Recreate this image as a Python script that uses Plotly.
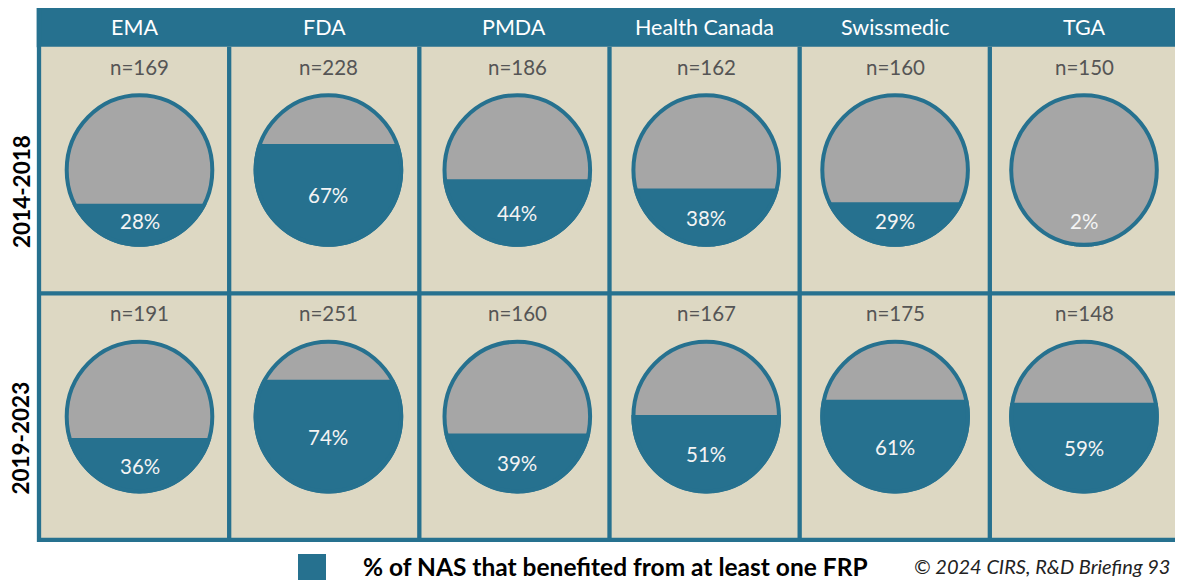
import numpy as np
import plotly.graph_objects as go

# ---------------- data ----------------
regulators = ["EMA", "FDA", "PMDA", "Health Canada", "Swissmedic", "TGA"]
periods = ["2014-2018", "2019-2023"]
n_2014_2018 = [169, 228, 186, 162, 160, 150]
n_2019_2023 = [191, 251, 160, 167, 175, 148]
pct_2014_2018 = [28, 67, 44, 38, 29, 2]
pct_2019_2023 = [36, 74, 39, 51, 61, 59]
legend_label = "% of NAS that benefited from at least one FRP"
source_label = "© 2024 CIRS, R&D Briefing 93"

n_values = [n_2014_2018, n_2019_2023]
pct_values = [pct_2014_2018, pct_2019_2023]

# ---------------- style / layout ----------------
W, H = 1183, 580
PAGE_OFF = 8  # default page body margin
BLUE = "#26718F"
BEIGE = "#DDD8C3"
GREY = "#A6A6A6"
NTXT = "#555555"
FONT = "Lato"

GX0, GX1 = 39.0, 1180.0
HEAD_Y0, HEAD_Y1 = 5.7, 46.7
ROW_H = 246.6
LINE_W = 4.3
COL_W = (GX1 - GX0) / len(regulators)

CIRC_X0, CIRC_DX = 139.5, 188.9
CIRC_Y0 = 170.0
RX, RY = 74.8, 76.8  # outer radii
OUT_W = 4.0

fig = go.Figure()
shapes = []
annotations = []

# header band
shapes.append(dict(type="rect", x0=GX0 - 2.3, x1=GX1 + 1.7, y0=HEAD_Y0, y1=HEAD_Y1 + 0.5,
                   fillcolor=BLUE, line=dict(width=0), layer="below"))
# body
body_y1 = HEAD_Y1 + 2 * ROW_H
shapes.append(dict(type="rect", x0=GX0, x1=GX1, y0=HEAD_Y1, y1=body_y1,
                   fillcolor=BEIGE, line=dict(width=0), layer="below"))

for i, reg in enumerate(regulators):
    col_c = GX0 + COL_W * (i + 0.5)
    annotations.append(dict(x=col_c, y=(HEAD_Y0 + HEAD_Y1) / 2 + 1, text=reg, showarrow=False,
                            xref="x", yref="y", xanchor="center", yanchor="middle",
                            font=dict(family=FONT, size=21.5, color="white")))

for r, period in enumerate(periods):
    row_top = HEAD_Y1 + r * ROW_H
    cy = CIRC_Y0 + r * ROW_H
    annotations.append(dict(x=21, y=cy + 22, text="<b>%s</b>" % period, showarrow=False,
                            textangle=-90, xref="x", yref="y", borderpad=0,
                            font=dict(family=FONT, size=22.5, color="black")))
    for i in range(len(regulators)):
        cx = CIRC_X0 + CIRC_DX * i
        pct = pct_values[r][i]
        n = n_values[r][i]
        # grey disk
        shapes.append(dict(type="circle", x0=cx - RX + 2, x1=cx + RX - 2, y0=cy - RY + 2, y1=cy + RY - 2,
                           fillcolor=GREY, line=dict(width=0)))
        # liquid level
        level = cy + RY - pct / 100.0 * 2 * RY
        s = np.clip((level - cy) / RY, -1, 1)
        t0 = np.arcsin(s)
        t = np.linspace(t0, np.pi - t0, 90)
        xs = cx + RX * np.cos(t)
        ys = cy + RY * np.sin(t)
        path = "M " + " L ".join("%.2f,%.2f" % (a, b) for a, b in zip(xs, ys)) + " Z"
        shapes.append(dict(type="path", path=path, fillcolor=BLUE, line=dict(width=0)))
        # outline
        shapes.append(dict(type="circle", x0=cx - RX + 2, x1=cx + RX - 2, y0=cy - RY + 2, y1=cy + RY - 2,
                           fillcolor="rgba(0,0,0,0)", line=dict(color=BLUE, width=OUT_W)))
        # labels
        annotations.append(dict(x=cx, y=row_top + 20, text="n=%d" % n, showarrow=False,
                                xref="x", yref="y", yanchor="middle",
                                font=dict(family=FONT, size=20.5, color=NTXT)))
        ly = min((level + cy + RY) / 2, cy + 51)
        annotations.append(dict(x=cx, y=ly, text="%d%%" % pct, showarrow=False,
                                xref="x", yref="y", yanchor="middle",
                                font=dict(family=FONT, size=20.5, color="#F4F4F4")))

# grid lines
for k in range(1, len(regulators)):
    x = GX0 + COL_W * k
    shapes.append(dict(type="line", x0=x, x1=x, y0=HEAD_Y1, y1=body_y1,
                       line=dict(color=BLUE, width=LINE_W)))
shapes.append(dict(type="line", x0=GX0, x1=GX1, y0=HEAD_Y1 + ROW_H, y1=HEAD_Y1 + ROW_H,
                   line=dict(color=BLUE, width=LINE_W)))
# outer border
shapes.append(dict(type="path",
                   path="M %f,%f L %f,%f L %f,%f L %f,%f" % (GX0, HEAD_Y0, GX0, body_y1, GX1, body_y1, GX1, HEAD_Y0),
                   line=dict(color=BLUE, width=LINE_W)))

# legend
shapes.append(dict(type="rect", x0=298, x1=326, y0=554, y1=584, fillcolor=BLUE,
                   line=dict(width=0)))
annotations.append(dict(x=361, y=566, text="<b>%s</b>" % legend_label, showarrow=False,
                        xref="x", yref="y", xanchor="left", yanchor="middle",
                        font=dict(family=FONT, size=24.5, color="black")))
annotations.append(dict(x=1172, y=566, text="<i>%s</i>" % source_label, showarrow=False,
                        xref="x", yref="y", xanchor="right", yanchor="middle",
                        font=dict(family=FONT, size=20, color="#222222")))

fig.update_layout(
    width=W - PAGE_OFF, height=H - PAGE_OFF,
    margin=dict(l=0, r=0, t=0, b=0),
    paper_bgcolor="white", plot_bgcolor="white",
    xaxis=dict(range=[PAGE_OFF, W], visible=False, fixedrange=True),
    yaxis=dict(range=[H, PAGE_OFF], visible=False, fixedrange=True),
    shapes=shapes, annotations=annotations, showlegend=False,
)
fig.write_html("out.html")
